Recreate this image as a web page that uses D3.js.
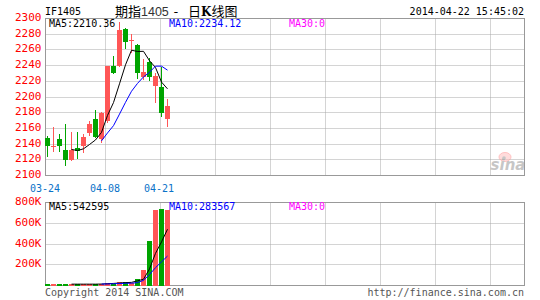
<!DOCTYPE html>
<html><head><meta charset="utf-8">
<script src="https://cdn.jsdelivr.net/npm/d3@7"></script>
<style>body{margin:0;background:#fff;}svg{display:block;}</style>
</head><body>
<svg id="c" width="540" height="300"></svg>
<script>
// ---- data ----
const dates = ["03-24","03-25","03-26","03-27","03-28","03-31","04-01","04-02","04-03","04-04",
               "04-08","04-09","04-10","04-11","04-14","04-15","04-16","04-17","04-18","04-21","04-22"];
const openP  = [2148,2137.5,2146,2133,2120,2135,2137,2154,2172,2147,2169,2239,2239,2287,2271,2266,2226,2245,2214,2213,2172];
const highP  = [2150,2162,2153,2166,2155,2155,2153,2169,2184,2181,2240,2252,2296,2288,2280,2267,2249,2250,2231,2238,2197];
const lowP   = [2123,2130,2130,2112,2119,2121,2129,2150,2148,2142,2167,2229,2238,2261,2256,2223,2222,2221,2192,2174,2162];
const closeP = [2138,2138,2138,2120,2132,2131,2149,2165.5,2149,2180,2239,2231,2285,2270,2273,2231,2232,2225,2227,2180,2188];
const ma5  = [null,null,null,null,2133.2,2131.8,2134.0,2139.5,2145.3,2154.9,2176.5,2192.9,2216.8,2241.0,2259.6,2258.0,2258.2,2246.2,2237.6,2219.0,2210.4];
const ma10 = [null,null,null,null,null,null,null,null,null,2144.1,2154.2,2163.5,2178.2,2193.2,2207.3,2217.3,2225.6,2231.5,2239.3,2239.3,2234.2];
const volK   = [14,14,13,13,12,12,12,12,11,16,24,14,30,30,28,58,148,425,730,742,730];
const volMa5  = [null,null,null,null,13,13,13,13,13,14,17,20,24,28,30,45,60,160,310,420,542.6];
const volMa10 = [null,null,null,null,null,null,null,null,null,14,15,17,19,21,22,28,50,105,172,228,283.6];
const priceTicks = [2100,2120,2140,2160,2180,2200,2220,2240,2260,2280,2300];
const volTicks = [200,400,600,800];
const dateTickIdx = [0,10,19];
const priceLegend = ["MA5:2210.36","MA10:2234.12","MA30:0"];
const volLegend = ["MA5:542595","MA10:283567","MA30:0"];
const legendColors = ["#000000","#0000ff","#ff00ff"];

// ---- layout ----
const svg = d3.select("#c");
const L = 45.5, R = 524.5, T = 18.5, B = 175.5, VT = 202.5, VB = 285.5;
const FONT = "'DejaVu Sans Mono', monospace";
const CJK = "'Noto Sans CJK SC', sans-serif";
const RED = "#ff5656", GREEN = "#00a400";
const x = d3.scaleLinear().domain([0, 20]).range([47.5, 167.5]);
const y = d3.scaleLinear().domain([2100, 2300]).range([B, T]);
const vy = d3.scaleLinear().domain([0, 800]).range([VB, VT]);
const gridX = d3.range(8).map(k => Math.floor(105.3 + 55.05 * k) + 0.5);
const crisp = v => Math.floor(v) + 0.5;

function pane(top, bottom, ys) {
  const g = svg.append("g");
  g.selectAll("line.h").data(ys).join("line")
    .attr("x1", L).attr("x2", R).attr("y1", d => crisp(d)).attr("y2", d => crisp(d))
    .attr("stroke", "#a8a8a8").attr("stroke-dasharray", "1,1");
  g.selectAll("line.v").data(gridX).join("line").attr("class","v")
    .attr("x1", d => d).attr("x2", d => d).attr("y1", top).attr("y2", bottom)
    .attr("stroke", "#a8a8a8").attr("stroke-dasharray", "1,1");
  g.append("rect").attr("x", L).attr("y", top).attr("width", R - L).attr("height", bottom - top)
    .attr("fill", "none").attr("stroke", "#999").attr("shape-rendering", "crispEdges");
}
pane(T, B, priceTicks.slice(1, -1).map(y));
pane(VT, VB, volTicks.slice(0, -1).map(vy));

// y-axis labels
svg.append("g").selectAll("text").data(priceTicks).join("text")
  .attr("x", 41.5).attr("y", d => y(d) + 2.5).attr("text-anchor", "end")
  .attr("font-family", FONT).attr("font-size", 11).attr("fill", "#ff0000").text(d => d);
svg.append("g").selectAll("text").data(volTicks).join("text")
  .attr("x", 41.5).attr("y", d => vy(d) + 2.5).attr("text-anchor", "end")
  .attr("font-family", FONT).attr("font-size", 11).attr("fill", "#ff0000").text(d => d + "K");

// date labels
svg.append("g").selectAll("text").data(dateTickIdx).join("text")
  .attr("x", i => x(i) - 2.5).attr("y", 192).attr("text-anchor", "middle")
  .attr("font-family", FONT).attr("font-size", 10).attr("fill", "#0a72c8").text(i => dates[i]);

// candles
const up = i => closeP[i] >= openP[i];
const idx = d3.range(dates.length);
const cg = svg.append("g").attr("shape-rendering", "crispEdges");
cg.selectAll("line").data(idx).join("line")
  .attr("x1", i => x(i)).attr("x2", i => x(i))
  .attr("y1", i => Math.round(y(highP[i]))).attr("y2", i => Math.round(y(lowP[i])))
  .attr("stroke", i => up(i) ? RED : GREEN);
cg.selectAll("rect").data(idx).join("rect")
  .attr("x", i => x(i) - 2.5).attr("width", 5)
  .attr("y", i => Math.round(y(Math.max(openP[i], closeP[i]))))
  .attr("height", i => Math.max(1, Math.round(y(Math.min(openP[i], closeP[i]))) - Math.round(y(Math.max(openP[i], closeP[i])))))
  .attr("fill", i => up(i) ? RED : GREEN);

// volume bars
svg.append("g").attr("shape-rendering", "crispEdges").selectAll("rect").data(idx).join("rect")
  .attr("x", i => x(i) - 2.5).attr("width", 5)
  .attr("y", i => Math.round(vy(volK[i]))).attr("height", i => VB - Math.round(vy(volK[i])))
  .attr("fill", i => up(i) ? RED : GREEN);

// moving average lines
function maLine(arr, scale, color) {
  const line = d3.line().defined(d => d != null).x((d, i) => x(i)).y(d => scale(d));
  svg.append("path").datum(arr).attr("d", line).attr("fill", "none")
    .attr("stroke", color).attr("stroke-width", 1);
}
maLine(ma5, y, "#000");
maLine(ma10, y, "#0000ff");
maLine(volMa5, vy, "#000");
maLine(volMa10, vy, "#0000ff");

// legends
function legend(labels, yy) {
  svg.append("g").selectAll("text").data(labels).join("text")
    .attr("x", (d, i) => 49 + 120 * i).attr("y", yy)
    .attr("font-family", FONT).attr("font-size", 10)
    .attr("fill", (d, i) => legendColors[i]).text(d => d);
}
legend(priceLegend, 27);
legend(volLegend, 209.5);

// titles
svg.append("text").attr("x", 45).attr("y", 15).attr("font-family", FONT).attr("font-size", 10)
  .attr("fill", "#000").text("IF1405");
const title = svg.append("g").attr("font-size", 13).attr("fill", "#000");
title.append("text").attr("x", 115).attr("y", 15.5).attr("font-family", CJK).text("期指");
title.append("text").attr("x", 141).attr("y", 15.5).attr("font-family", "'Liberation Sans', sans-serif")
  .attr("font-size", 12.5).attr("fill", "#333").text("1405");
title.append("text").attr("x", 172).attr("y", 15.5).attr("font-family", FONT).text("-");
const t2 = title.append("text").attr("x", 188).attr("y", 15.5).attr("font-family", CJK);
t2.append("tspan").text("日");
t2.append("tspan").attr("font-weight", "bold").attr("font-family", "'DejaVu Serif', serif").attr("font-size", 12).text("K");
t2.append("tspan").text("线图");
svg.append("text").attr("x", 524).attr("y", 15).attr("text-anchor", "end")
  .attr("font-family", FONT).attr("font-size", 10).attr("fill", "#000").text("2014-04-22 15:45:02");
svg.append("text").attr("x", 45).attr("y", 296).attr("font-family", FONT).attr("font-size", 10)
  .attr("fill", "#555").text("Copyright 2014 SINA.COM");
svg.append("text").attr("x", 524).attr("y", 296).attr("text-anchor", "end")
  .attr("font-family", FONT).attr("font-size", 10).attr("fill", "#555").text("http://finance.sina.com.cn");

// sina watermark
const wm = svg.append("g").attr("opacity", 0.55);
wm.append("ellipse").attr("cx", 505).attr("cy", 157).attr("rx", 6).attr("ry", 4.5)
  .attr("fill", "#ffc0c0").attr("stroke", "#ff9090");
wm.append("circle").attr("cx", 504).attr("cy", 158).attr("r", 1.8).attr("fill", "#999");
wm.append("text").attr("x", 508).attr("y", 170).attr("text-anchor", "middle")
  .attr("font-family", "'DejaVu Sans', sans-serif").attr("font-size", 15).attr("font-style", "italic")
  .attr("font-weight", "bold").attr("fill", "#999").text("sina");
</script>
</body></html>
